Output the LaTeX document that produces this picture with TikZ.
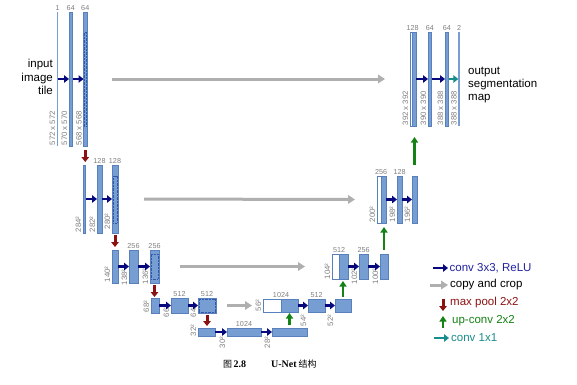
\documentclass[tikz,border=0pt]{standalone}
\usepackage{fontspec}
\setmainfont{Liberation Sans}
\newfontfamily\cjk{Noto Sans CJK SC}
\newfontfamily\serifcap{Liberation Serif}
\usetikzlibrary{arrows.meta,fit}
\definecolor{barblue}{RGB}{118,158,210}
\definecolor{baredge}{RGB}{88,128,188}
\definecolor{dotblue}{RGB}{50,88,172}
\definecolor{convblue}{RGB}{8,8,125}
\definecolor{convtext}{RGB}{35,35,160}
\definecolor{copygray}{RGB}{175,175,175}
\definecolor{poolred}{RGB}{140,18,18}
\definecolor{upgreen}{RGB}{20,130,20}
\definecolor{tealarr}{RGB}{25,140,140}
\definecolor{lblgray}{RGB}{128,128,128}
\begin{document}
\begin{tikzpicture}[x=1pt,y=-1pt,
  blk/.style={fill=barblue, draw=baredge, line width=0.5pt, inner sep=0pt, outer sep=0pt},
  wblk/.style={fill=white, draw=baredge, line width=0.5pt, inner sep=0pt, outer sep=0pt},
  thinbar/.style={fill=barblue, draw=none, inner sep=0pt, outer sep=0pt},
  cropbox/.style={draw=dotblue, line width=0.6pt, dash pattern=on 0.6pt off 0.8pt, inner sep=0pt, outer sep=0pt},
  toplbl/.style={font=\fontsize{7.2}{8}\selectfont, text=lblgray, anchor=south, inner sep=0.5pt, yshift=0.8pt},
  rlbl/.style={font=\fontsize{7.8}{8}\selectfont, text=lblgray, rotate=90, anchor=south west, inner sep=0.5pt},
  conv/.style={draw=convblue, line width=2.6pt, -{Triangle[length=5pt,width=7.5pt]}},
  copyarr/.style={draw=copygray, line width=3pt, -{Triangle[length=7pt,width=8.5pt]}},
  poolarr/.style={draw=poolred, line width=3pt, -{Triangle[length=5pt,width=7.5pt]}},
  uparr/.style={draw=upgreen, line width=2.8pt, -{Triangle[length=5.5pt,width=7pt]}},
  c11/.style={draw=tealarr, line width=2.6pt, -{Triangle[length=5pt,width=7.5pt]}},
  txt/.style={font=\fontsize{11.5}{13.3}\selectfont, inner sep=0pt},
]
\fill[white] (0,0) rectangle (577,384);
\useasboundingbox (0,0) rectangle (577,384);

% ---------- contracting path ----------
% level 1
\node[thinbar, fit={(56.8,12)(58.3,146)}] (d1a) {};
\node[blk, fit={(69,12)(72.5,146)}] (d1b) {};
\node[blk, fit={(83.5,12)(87,146)}] (d1c) {};
\node[cropbox, fit={(84.4,32)(86.1,126)}] (k1) {};
% level 2
\node[blk, fit={(83,165)(85.5,233)}] (d2a) {};
\node[blk, fit={(97,165)(102,233)}] (d2b) {};
\node[blk, fit={(112,165)(118,233)}] (d2c) {};
\node[cropbox, fit={(113.2,176)(116.8,223)}] (k2) {};
% level 3
\node[blk, fit={(112,250)(118,283)}] (d3a) {};
\node[blk, fit={(129,250)(138,283)}] (d3b) {};
\node[blk, fit={(150,250)(159,283)}] (d3c) {};
\node[cropbox, fit={(151.2,254)(157.8,279)}] (k3) {};
% level 4
\node[blk, fit={(151,298)(159,313)}] (d4a) {};
\node[blk, fit={(171,298)(188,313)}] (d4b) {};
\node[blk, fit={(198,298)(216,313)}] (d4c) {};
\node[cropbox, fit={(199.2,299.2)(214.8,311.8)}] (k4) {};
% level 5
\node[blk, fit={(198,328)(215,336)}] (d5a) {};
\node[blk, fit={(227,328)(261,336)}] (d5b) {};
\node[blk, fit={(272,328)(307,336)}] (d5c) {};

% ---------- expansive path ----------
\node[wblk, fit={(263,299)(281,312)}] (u4w) {};
\node[blk, fit={(281,299)(298,312)}] (u4a) {};
\node[blk, fit={(308,299)(325,312)}] (u4b) {};
\node[blk, fit={(335,299)(351,312)}] (u4c) {};

\node[wblk, fit={(332,254)(339,279)}] (u3w) {};
\node[blk, fit={(339,254)(348,279)}] (u3a) {};
\node[blk, fit={(359,254)(368,279)}] (u3b) {};
\node[blk, fit={(380,254)(388,279)}] (u3c) {};

\node[wblk, fit={(377,176)(381,223)}] (u2w) {};
\node[blk, fit={(381,176)(386,223)}] (u2a) {};
\node[blk, fit={(397,176)(402,223)}] (u2b) {};
\node[blk, fit={(412,176)(417,223)}] (u2c) {};

\node[wblk, fit={(410,32)(412.5,126)}] (u1w) {};
\node[blk, fit={(412.5,32)(416,126)}] (u1a) {};
\node[blk, fit={(428,32)(431.5,126)}] (u1b) {};
\node[blk, fit={(445,32)(448.5,126)}] (u1c) {};
\node[thinbar, fit={(458.3,32)(459.8,126)}] (u1d) {};

% ---------- top labels ----------
\node[toplbl] at (d1a.north) {1};
\node[toplbl] at (d1b.north) {64};
\node[toplbl] at (d1c.north) {64};
\node[toplbl] at (d2b.north) {128};
\node[toplbl] at (d2c.north) {128};
\node[toplbl] at (d3b.north) {256};
\node[toplbl] at (d3c.north) {256};
\node[toplbl] at (d4b.north) {512};
\node[toplbl] at (d4c.north) {512};
\node[toplbl] at (d5b.north) {1024};
\node[toplbl] at (u4w.north east) {1024};
\node[toplbl] at (u4b.north) {512};
\node[toplbl] at (u3w.north east) {512};
\node[toplbl] at (u3b.north) {256};
\node[toplbl] at (u2w.north east) {256};
\node[toplbl] at (u2b.north) {128};
\node[toplbl] at (u1w.north east) {128};
\node[toplbl] at (u1b.north) {64};
\node[toplbl] at (u1c.north) {64};
\node[toplbl] at (u1d.north) {2};

% ---------- rotated size labels ----------
\node[rlbl] at ([xshift=-1pt]d1a.south west) {572 x 572};
\node[rlbl] at ([xshift=-1pt]d1b.south west) {570 x 570};
\node[rlbl] at ([xshift=-1pt]d1c.south west) {568 x 568};
\node[rlbl] at ([xshift=-1pt]d2a.south west) {284²};
\node[rlbl] at ([xshift=-1pt]d2b.south west) {282²};
\node[rlbl] at ([xshift=-1pt,yshift=3pt]d2c.south west) {280²};
\node[rlbl] at ([xshift=-1pt]d3a.south west) {140²};
\node[rlbl] at ([xshift=-1pt,yshift=-3pt]d3b.south west) {138²};
\node[rlbl] at ([xshift=-1pt,yshift=-2pt]d3c.south west) {136²};
\node[rlbl] at ([xshift=-1pt]d4a.south west) {68²};
\node[rlbl] at ([xshift=-1pt,yshift=-5pt]d4b.south west) {66²};
\node[rlbl] at ([xshift=-1pt,yshift=-5pt]d4c.south west) {64²};
\node[rlbl] at ([xshift=-1pt,yshift=-1pt]d5a.south west) {32²};
\node[rlbl] at ([xshift=-1pt,yshift=-13pt]d5b.south west) {30²};
\node[rlbl] at ([xshift=-1pt,yshift=-13pt]d5c.south west) {28²};
\node[rlbl] at ([xshift=-1pt]u4w.south west) {56²};
\node[rlbl] at ([xshift=-1pt,yshift=-15pt]u4b.south west) {54²};
\node[rlbl] at ([xshift=-1pt,yshift=-15pt]u4c.south west) {52²};
\node[rlbl] at ([xshift=-1pt,yshift=-1pt]u3w.south west) {104²};
\node[rlbl] at ([xshift=-1pt,yshift=-6pt]u3b.south west) {102²};
\node[rlbl] at ([xshift=-1pt,yshift=-6pt]u3c.south west) {100²};
\node[rlbl] at ([xshift=-1pt]u2w.south west) {200²};
\node[rlbl] at ([xshift=-1pt]u2b.south west) {198²};
\node[rlbl] at ([xshift=-1pt]u2c.south west) {196²};
\node[rlbl] at ([xshift=-1pt]u1w.south west) {392 x 392};
\node[rlbl] at ([xshift=-1pt]u1b.south west) {390 x 390};
\node[rlbl] at ([xshift=-1pt]u1c.south west) {388 x 388};
\node[rlbl] at ([xshift=-1pt]u1d.south west) {388 x 388};

% ---------- conv 3x3 arrows ----------
\draw[conv] (d1a.east) -- (d1b.west);
\draw[conv] (d1b.east) -- (d1c.west);
\draw[conv] (d2a.east) -- (d2b.west);
\draw[conv] (d2b.east) -- (d2c.west);
\draw[conv] (d3a.east) -- (d3b.west);
\draw[conv] (d3b.east) -- (d3c.west);
\draw[conv] (d4a.east) -- (d4b.west);
\draw[conv] (d4b.east) -- (d4c.west);
\draw[conv] (d5a.east) -- (d5b.west);
\draw[conv] (d5b.east) -- (d5c.west);
\draw[conv] (u4a.east) -- (u4b.west);
\draw[conv] (u4b.east) -- (u4c.west);
\draw[conv] (u3a.east) -- (u3b.west);
\draw[conv] (u3b.east) -- (u3c.west);
\draw[conv] (u2a.east) -- (u2b.west);
\draw[conv] (u2b.east) -- (u2c.west);
\draw[conv] (u1a.east) -- (u1b.west);
\draw[conv] (u1b.east) -- (u1c.west);
\draw[c11] (u1c.east) -- (u1d.west);

% ---------- copy and crop ----------
\draw[copyarr, shorten <=25pt, shorten >=25pt] (d1c.east) -- (u1w.west);
\draw[copyarr, shorten <=26pt, shorten >=22pt] (d2c.east) -- (u2w.west);
\draw[copyarr, shorten <=21pt, shorten >=27pt] (d3c.east) -- (u3w.west);
\draw[copyarr, shorten <=11pt, shorten >=11pt] (d4c.east) -- (u4w.west);

% ---------- max pool ----------
\draw[poolarr, shorten <=4pt, shorten >=3pt] (d1c.south) -- (d1c.south |- d2a.north);
\draw[poolarr, shorten <=2pt, shorten >=3pt] (d2c.south) -- (d2c.south |- d3a.north);
\draw[poolarr, shorten <=2pt, shorten >=1pt] (d3c.south) -- (d3c.south |- d4a.north);
\draw[poolarr, shorten <=2pt, shorten >=2pt] (d4c.south) -- (d4c.south |- d5a.north);

% ---------- up-conv ----------
\draw[uparr, shorten <=3pt, shorten >=1pt] (d5c.north) -- (d5c.north |- u4a.south);
\draw[uparr, shorten <=2pt, shorten >=2pt] (u4c.north) -- (u4c.north |- u3a.south);
\draw[uparr, shorten <=4pt, shorten >=4pt] (u3c.north) -- (u3c.north |- u2a.south);
\draw[uparr, shorten <=11pt, shorten >=11pt] (u2c.north) -- (u2c.north |- u1a.south);

% ---------- side texts ----------
\node[txt, align=right, anchor=east] (intext) at (53,77) {input\\image\\tile};
\node[txt, align=left, anchor=west] (outtext) at (468,85) {output\\segmentation\\map};

% ---------- legend ----------
\coordinate (l1a) at (433,268); \coordinate (l1b) at (448,268);
\draw[conv] (l1a) -- (l1b);
\node[txt, anchor=west, text=convtext] (lt1) at (449.5,268) {conv 3x3, ReLU};
\coordinate (l2a) at (430,285); \coordinate (l2b) at (448,285);
\draw[copyarr] (l2a) -- (l2b);
\node[txt, anchor=west] (lt2) at (450,285) {copy and crop};
\coordinate (l3a) at (443,299); \coordinate (l3b) at (443,311);
\draw[poolarr] (l3a) -- (l3b);
\node[txt, anchor=west, text=poolred] (lt3) at (450,303) {max pool 2x2};
\coordinate (l4a) at (443,328); \coordinate (l4b) at (443,316);
\draw[uparr] (l4a) -- (l4b);
\node[txt, anchor=west, text=upgreen] (lt4) at (452,321) {up-conv 2x2};
\coordinate (l5a) at (434,338); \coordinate (l5b) at (449,338);
\draw[c11] (l5a) -- (l5b);
\node[txt, anchor=west, text=tealarr] (lt5) at (451,338) {conv 1x1};

% ---------- caption ----------
\node[anchor=west, inner sep=0pt, font=\fontsize{10}{12}\selectfont] (cap) at (223,364)
  {{\cjk\fontsize{9}{11}\selectfont 图}\hspace{1.5pt}{\serifcap\bfseries 2.8}\hspace{25pt}{\serifcap\bfseries U-Net}\hspace{2pt}{\cjk\fontsize{9}{11}\selectfont 结构}};
\end{tikzpicture}
\end{document}
